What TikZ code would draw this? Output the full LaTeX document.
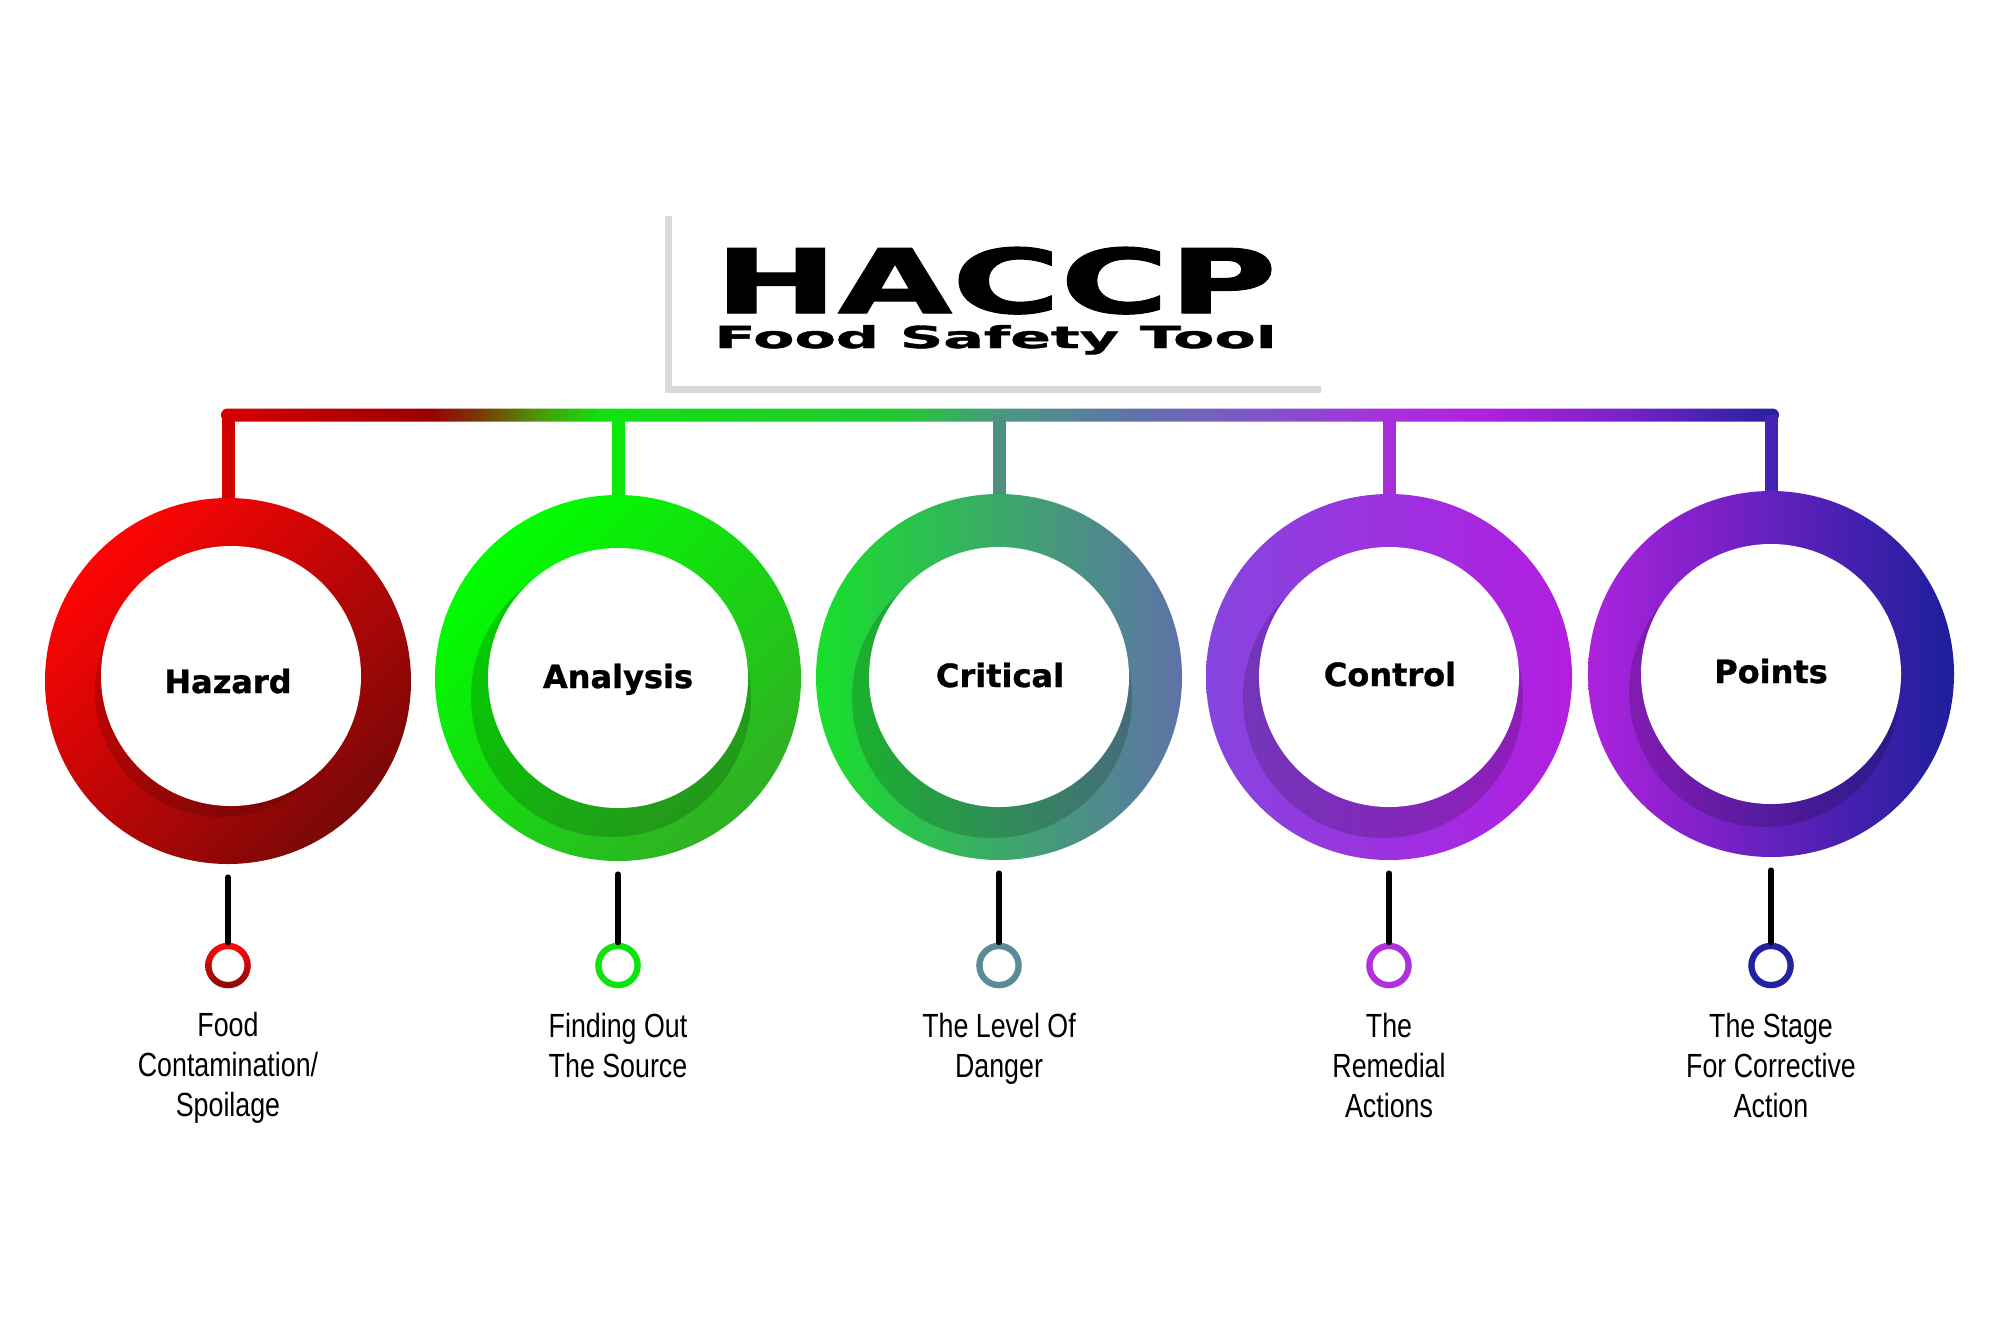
\documentclass[tikz,border=0pt]{standalone}
\usepackage{fontspec}
\setmainfont{Liberation Sans}
\newfontfamily\headfont{DejaVu Sans Bold}[FakeBold=1.2]
\newfontfamily\labelfont{DejaVu Sans Bold}[FakeBold=1.0]
\newfontfamily\narrowfont{Liberation Sans}[FakeStretch=0.8]
\usepackage{graphicx}
\definecolor{b0}{HTML}{D80000}
\definecolor{b1}{HTML}{9A0000}
\definecolor{b2}{HTML}{7A3A08}
\definecolor{b3}{HTML}{4A9A08}
\definecolor{b4}{HTML}{12E012}
\definecolor{b5}{HTML}{22C832}
\definecolor{b6}{HTML}{4A9A80}
\definecolor{b7}{HTML}{5E74A8}
\definecolor{b8}{HTML}{7C58C8}
\definecolor{b9}{HTML}{A830DB}
\definecolor{b10}{HTML}{B020E0}
\definecolor{b11}{HTML}{7A22C8}
\definecolor{b12}{HTML}{2222A0}
\definecolor{graybox}{HTML}{D9D9D9}
\definecolor{s1}{HTML}{D00000}
\definecolor{s2}{HTML}{0CE80C}
\definecolor{s3}{HTML}{4E9080}
\definecolor{s4}{HTML}{A82EDB}
\definecolor{s5}{HTML}{4422B5}
\pgfdeclarehorizontalshading{barshade}{100bp}{color(0bp)=(b0); color(25bp)=(b0); color(31.71bp)=(b1); color(33.31bp)=(b2); color(35.24bp)=(b3); color(37.16bp)=(b4); color(46.79bp)=(b5); color(50bp)=(b6); color(54.17bp)=(b7); color(58.02bp)=(b8); color(62.45bp)=(b9); color(65.4bp)=(b10); color(69.9bp)=(b11); color(75bp)=(b12); color(100bp)=(b12)}
\begin{document}
\begin{tikzpicture}[x=0.5pt,y=-0.5pt,
  outer/.style={circle, inner sep=0pt, minimum size=183pt},
  whitein/.style={circle, fill=white, inner sep=0pt, minimum size=130pt},
  shadowin/.style={circle, fill=black, fill opacity=0.17, inner sep=0pt},
  steptext/.style={inner sep=0pt, anchor=base, font=\labelfont\fontsize{16pt}{19pt}\selectfont},
  stemtop/.style={line width=6.5pt},
  stemlow/.style={line width=3pt, line cap=round, black, shorten <=6.5pt},
  ringout/.style={circle, inner sep=0pt, minimum size=22.8pt},
  ringin/.style={circle, fill=white, inner sep=0pt, minimum size=16.3pt},
  desc/.style={inner sep=0pt, anchor=north, align=center, font=\narrowfont\fontsize{16.75pt}{20pt}\selectfont}
]
\useasboundingbox[fill=white] (0,0) rectangle (2000,1333);

% title frame
\draw[graybox, line width=3.5pt] (668,216) -- (668,389) -- (1321,389);
\node[inner sep=0pt, anchor=base west] (title) at (714,313) {\resizebox{281pt}{33pt}{\headfont HACCP}};
\node[inner sep=0pt, anchor=base west] (subtitle) at (714,348) {\resizebox{281pt}{11.5pt}{\headfont Food Safety Tool}};

% bar
\coordinate (barL) at (221,415);
\coordinate (barR) at (1779,415);
\shade[shading=barshade, rounded corners=3.2pt] (221,408.5) rectangle (1779,421.5);

% outer rings
\node[outer, top color={rgb,255:red,255;green,4;blue,4}, bottom color={rgb,255:red,122;green,8;blue,8}, shading angle=45] (o1) at (228,681) {};
\node[outer, top color={rgb,255:red,0;green,255;blue,0}, bottom color={rgb,255:red,48;green,176;blue,36}, shading angle=45] (o2) at (618,678) {};
\node[outer, left color={rgb,255:red,24;green,224;blue,42}, right color={rgb,255:red,94;green,114;blue,168}] (o3) at (999,677) {};
\node[outer, left color={rgb,255:red,134;green,69;blue,223}, middle color={rgb,255:red,174;green,34;blue,221}, right color={rgb,255:red,178;green,30;blue,224}] (o4) at (1389,677) {};
\node[outer, left color={rgb,255:red,173;green,34;blue,222}, middle color={rgb,255:red,90;green,44;blue,192}, right color={rgb,255:red,28;green,31;blue,156}] (o5) at (1771,674) {};

% shadows
\node[shadowin, minimum size=126pt, fill opacity=0.14] (sh1) at (221,691) {};
\node[shadowin, minimum size=140pt] (sh2) at (611,697) {};
\node[shadowin, minimum size=140pt] (sh3) at (992,698) {};
\node[shadowin, minimum size=140pt] (sh4) at (1383,698) {};
\node[shadowin, minimum size=135pt] (sh5) at (1764,692) {};

% inner white discs
\node[whitein] (i1) at (231,676) {};
\node[whitein] (i2) at (618,678) {};
\node[whitein] (i3) at (999,677) {};
\node[whitein] (i4) at (1389,677) {};
\node[whitein] (i5) at (1771,674) {};

% step names
\node[steptext] (t1) at (228,693) {Hazard};
\node[steptext] (t2) at (618,688) {Analysis};
\node[steptext] (t3) at (1000,687) {Critical};
\node[steptext] (t4) at (1390,686) {Control};
\node[steptext] (t5) at (1771,683) {Points};

% top stems
\draw[stemtop, s1] (o1.north |- barL) -- (o1.north);
\draw[stemtop, s2] (o2.north |- barL) -- (o2.north);
\draw[stemtop, s3] (o3.north |- barL) -- (o3.north);
\draw[stemtop, s4] (o4.north |- barL) -- (o4.north);
\draw[stemtop, s5] (o5.north |- barL) -- (o5.north);

% small rings
\node[ringout, top color={rgb,255:red,255;green,10;blue,10}, bottom color={rgb,255:red,138;green,8;blue,8}] (r1) at (228,965.5) {};
\node[ringout, fill={rgb,255:red,16;green,226;blue,16}] (r2) at (618,965.5) {};
\node[ringout, fill={rgb,255:red,90;green,140;blue,152}] (r3) at (999,965.5) {};
\node[ringout, fill={rgb,255:red,176;green,48;blue,224}] (r4) at (1389,965.5) {};
\node[ringout, fill={rgb,255:red,35;green,35;blue,160}] (r5) at (1771,965.5) {};
\foreach \k/\x in {1/228,2/618,3/999,4/1389,5/1771}{
  \node[ringin] (w\k) at (\x,965.5) {};
}

% lower stems
\draw[stemlow] (o1.south) -- (r1.north);
\draw[stemlow] (o2.south) -- (r2.north);
\draw[stemlow] (o3.south) -- (r3.north);
\draw[stemlow] (o4.south) -- (r4.north);
\draw[stemlow] (o5.south) -- (r5.north);

% descriptions
\node[desc] (d1) at (228,1012) {Food\\Contamination/\\Spoilage};
\node[desc] (d2) at (618,1013) {Finding Out\\The Source};
\node[desc] (d3) at (999,1013) {The Level Of\\Danger};
\node[desc] (d4) at (1389,1013) {The\\Remedial\\Actions};
\node[desc] (d5) at (1771,1013) {The Stage\\For Corrective\\Action};
\end{tikzpicture}
\end{document}
